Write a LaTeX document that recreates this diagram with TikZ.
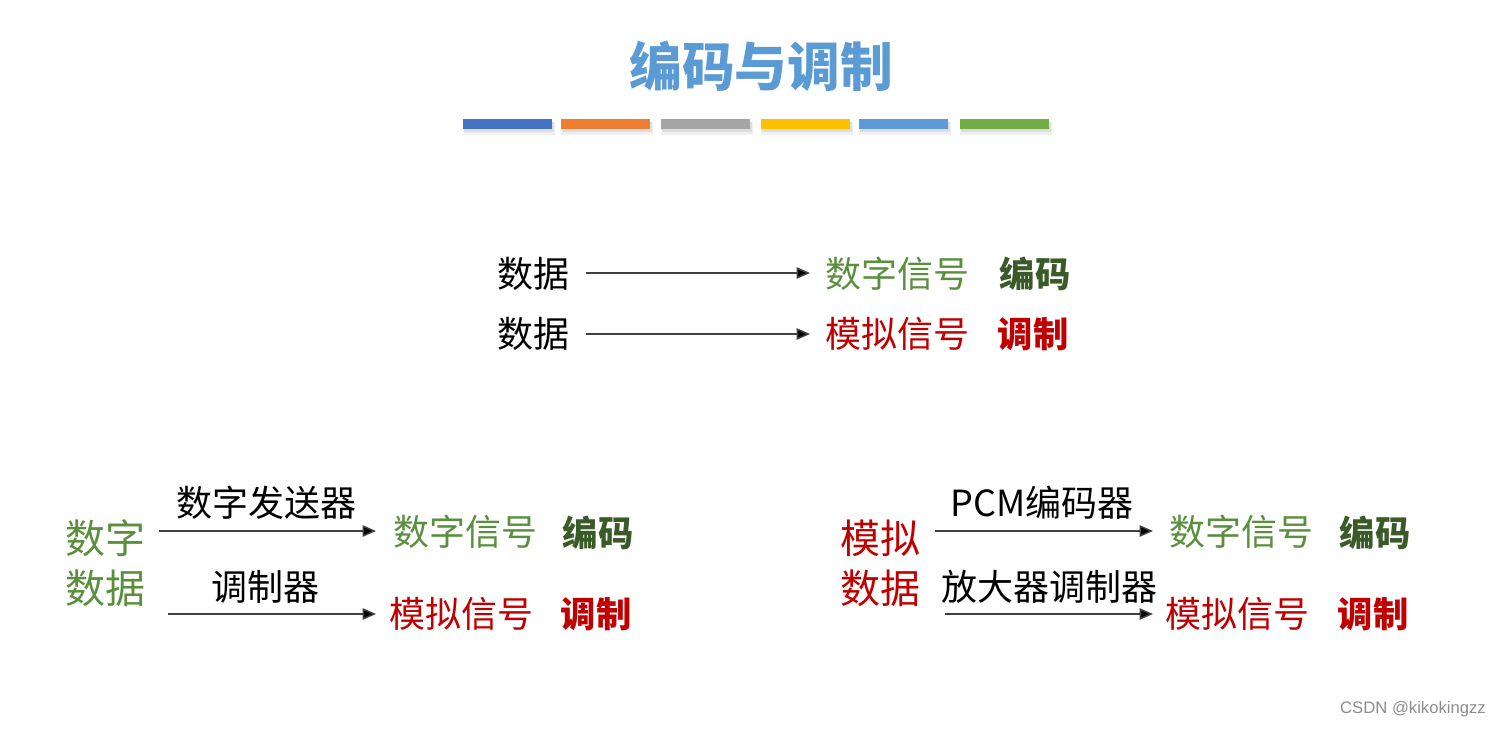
\documentclass[tikz,border=0pt]{standalone}
\usepackage{fontspec}
\setmainfont{Noto Sans CJK SC}
\newfontfamily\wmfont{Liberation Sans}
\usetikzlibrary{arrows.meta}
\definecolor{titleblue}{HTML}{5B9BD5}
\definecolor{sigGreen}{HTML}{5A8F3E}
\definecolor{darkGreen}{HTML}{3A5A28}
\definecolor{sigRed}{HTML}{C00000}
\definecolor{barA}{HTML}{4472C4}
\definecolor{barB}{HTML}{ED7D31}
\definecolor{barC}{HTML}{A5A5A5}
\definecolor{barD}{HTML}{FFC000}
\definecolor{barE}{HTML}{5B9BD5}
\definecolor{barF}{HTML}{70AD47}
\tikzset{
  txt/.style={inner sep=0pt, anchor=center, font=\fontsize{27pt}{30pt}\selectfont},
  bigtxt/.style={inner sep=0pt, anchor=center, font=\fontsize{30pt}{34pt}\selectfont},
  boldtxt/.style={txt, font=\fontsize{26.5pt}{30pt}\selectfont\bfseries},
  conn/.style={draw=black!75, line width=1.1pt, -{Triangle[length=10pt,width=8.5pt,fill=black]}},
  bar/.style={inner sep=0pt, minimum width=66.75pt, minimum height=7.5pt},
}
\begin{document}
\begin{tikzpicture}[x=0.75pt,y=-0.75pt]
\useasboundingbox (0,0) rectangle (1510,729);
% title
\node[inner sep=0pt, text=titleblue, font=\fontsize{39.5pt}{44pt}\selectfont\bfseries] (title) at (761,66) {编码与调制};
% bars
\foreach \c/\x [count=\i] in {barA/507.5,barB/605.5,barC/705.5,barD/805.5,barE/903.5,barF/1004.5}{
  \fill[black,opacity=0.06] (\x-45,122) rectangle (\x+47,135);
  \fill[black,opacity=0.08] (\x-44,122) rectangle (\x+46,132);
  \node[bar, fill=\c] (bar\i) at (\x,124) {};
}
% middle
\node[txt] (m1) at (533,274) {数据};
\node[txt] (m2) at (533,334) {数据};
\node[txt, text=sigGreen] (m1s) at (897,274) {数字信号};
\node[boldtxt, text=darkGreen] (m1b) at (1035,274) {编码};
\node[txt, text=sigRed] (m2s) at (897,334) {模拟信号};
\node[boldtxt, text=sigRed] (m2b) at (1033,334) {调制};
\coordinate (m1a) at (586,273); \coordinate (m1e) at (810,273);
\coordinate (m2a) at (586,334); \coordinate (m2e) at (810,334);
\draw[conn] (m1a) -- (m1e);
\draw[conn] (m2a) -- (m2e);
% bottom left
\node[bigtxt, text=sigGreen] (l1) at (105,538) {数字};
\node[bigtxt, text=sigGreen] (l2) at (105,588) {数据};
\node[txt] (lab1) at (266,503) {数字发送器};
\node[txt] (lab2) at (265,587) {调制器};
\node[txt, text=sigGreen] (l1s) at (465,532) {数字信号};
\node[boldtxt, text=darkGreen] (l1b) at (598,533) {编码};
\node[txt, text=sigRed] (l2s) at (461,614) {模拟信号};
\node[boldtxt, text=sigRed] (l2b) at (596,614) {调制};
\coordinate (la1) at (159,531); \coordinate (le1) at (376,531);
\coordinate (la2) at (168,614); \coordinate (le2) at (376,614);
\draw[conn] (la1) -- (le1);
\draw[conn] (la2) -- (le2);
% bottom right
\node[bigtxt, text=sigRed] (r1) at (880,538) {模拟};
\node[bigtxt, text=sigRed] (r2) at (880,588) {数据};
\node[txt] (rlab1) at (1042,503) {PCM编码器};
\node[txt] (rlab2) at (1049,587) {放大器调制器};
\node[txt, text=sigGreen] (r1s) at (1241,532) {数字信号};
\node[boldtxt, text=darkGreen] (r1b) at (1375,533) {编码};
\node[txt, text=sigRed] (r2s) at (1237,614) {模拟信号};
\node[boldtxt, text=sigRed] (r2b) at (1373,614) {调制};
\coordinate (ra1) at (935,531); \coordinate (re1) at (1153,531);
\coordinate (ra2) at (945,614); \coordinate (re2) at (1153,614);
\draw[conn] (ra1) -- (re1);
\draw[conn] (ra2) -- (re2);
% watermark
\node[inner sep=0pt, text=black!45, font=\wmfont\fontsize{12.5pt}{14pt}\selectfont] (wm) at (1413,709) {CSDN @kikokingzz};
\end{tikzpicture}
\end{document}
